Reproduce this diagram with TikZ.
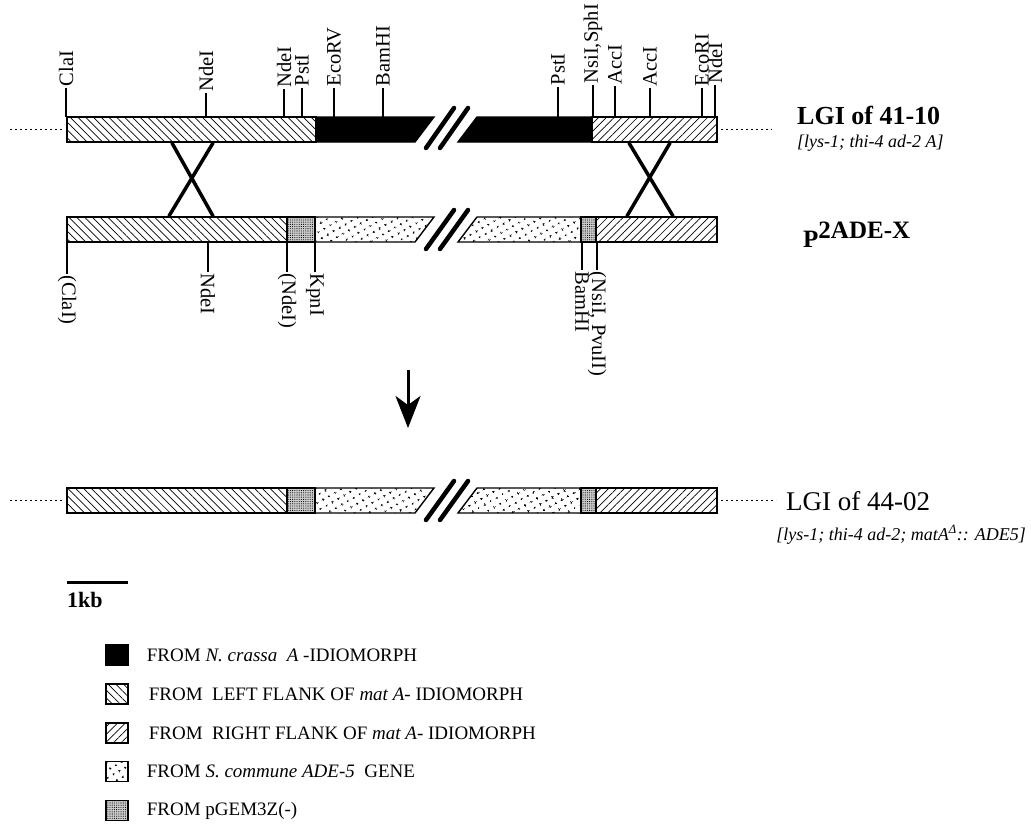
\documentclass[tikz,border=0pt]{standalone}
\usepackage{fontspec}
\setmainfont{Liberation Serif}
\usetikzlibrary{arrows.meta,patterns.meta,positioning}

\begin{document}
\begin{tikzpicture}[x=1pt,y=-1pt,
  seg/.style={draw=black,line width=1.4pt},
  leftflank/.style={seg,pattern={Lines[angle=-45,distance=5.5pt,line width=0.7pt]}},
  rightflank/.style={seg,pattern={Lines[angle=45,distance=5.5pt,line width=0.7pt]}},
  crassa/.style={seg,fill=black},
  adefive/.style={seg,pattern={Dots[distance=6.5pt,angle=30,radius=1.25pt]}},
  pgem/.style={seg,fill=gray!40,postaction={pattern={Dots[distance=2.2pt,radius=0.55pt]}}},
  brk/.style={line width=4.5pt,line cap=round},
  site/.style={inner sep=1.5pt,font=\fontsize{20.5}{22}\selectfont},
  sitetop/.style={site,rotate=90,anchor=west},
  sitebot/.style={site,rotate=-90,anchor=west},
  tick/.style={line width=1.6pt},
  cross/.style={line width=3.5pt,line cap=round},
  flank/.style={dash pattern=on 2pt off 3pt,line width=1.5pt},
  title/.style={anchor=base west,inner sep=0pt,font=\fontsize{26}{28}\selectfont\bfseries},
  geno/.style={anchor=base west,inner sep=0pt,font=\fontsize{18}{20}\selectfont\itshape},
  keybox/.style={minimum width=22pt,minimum height=20pt,inner sep=0pt},
  key/.style={anchor=west,inner sep=0pt,font=\fontsize{19}{21}\selectfont},
  arr/.style={-{Stealth[length=32pt,width=25pt,inset=9pt]},line width=3pt}
]
\useasboundingbox (0,0) rectangle (1031,825);
\coordinate (barA) at (0,117);
\coordinate (barB) at (0,242);

% LGI of 41-10
\draw[leftflank] (67,117) rectangle (316,142);
\draw[crassa] (316,117) -- (434,117) -- (415,142) -- (316,142) -- cycle;
\draw[crassa] (477,117) -- (592,117) -- (592,142) -- (458,142) -- cycle;
\draw[rightflank] (592,117) rectangle (717,142);
\draw[brk] (426,148) -- (454,108);
\draw[brk] (440,148) -- (468,108);
\draw[flank] (10,129.5) -- (63,129.5);
\draw[flank] (721,129.5) -- (772,129.5);

% P2ADE-X and LGI of 44-02
\foreach \t in {217,488}{
  \draw[leftflank] (67,\t) rectangle (287,\t+25);
  \draw[pgem] (287,\t) rectangle (315,\t+25);
  \draw[adefive] (315,\t) -- (434,\t) -- (415,\t+25) -- (315,\t+25) -- cycle;
  \draw[adefive] (477,\t) -- (581,\t) -- (581,\t+25) -- (458,\t+25) -- cycle;
  \draw[pgem] (581,\t) rectangle (596,\t+25);
  \draw[rightflank] (596,\t) rectangle (717,\t+25);
  \draw[brk] (426,\t+32) -- (454,\t-7);
  \draw[brk] (440,\t+32) -- (468,\t-7);
}
\draw[flank] (10,500.5) -- (63,500.5);
\draw[flank] (721,500.5) -- (776,500.5);

% crossovers
\draw[cross] (172,143) -- (213,216);
\draw[cross] (213,143) -- (169,216);
\draw[cross] (629,143) -- (673,216);
\draw[cross] (670,143) -- (627,216);

% sites above
\foreach \x/\y/\s [count=\i] in {66/88/ClaI,206/93/NdeI,284/89/NdeI,302/88/PstI,
    334/88/EcoRV,383/88/BamHI,558/87/PstI,{593/85/NsiI,SphI},615/86/AccI,
    650/88/AccI,702/88/EcoRI,715/85/NdeI}{
  \node[sitetop] (st\i) at (\x,\y) {\s};
  \draw[tick] (st\i.west) -- (st\i.west |- barA);
}

% sites below
\foreach \x/\y/\s [count=\i] in {67/274/(ClaI),208/272/NdeI,287/272/(NdeI),
    315/272/KpnI,582/270/BamHI,{597/270/(NsiI, PvuII)}}{
  \node[sitebot] (sb\i) at (\x,\y) {\s};
  \draw[tick] (sb\i.west) -- (sb\i.west |- barB);
}

% strain labels
\node[title] (lgiA) at (797,124) {LGI of 41-10};
\node[geno] (genA) at (797,147) {[lys-1; thi-4 ad-2 A]};
\node[title,font=\fontsize{25}{27}\selectfont\bfseries] (plas) at (803,247) {P\raisebox{9pt}{2ADE-X}};
\node[title,font=\fontsize{27}{29}\selectfont] (lgiB) at (786,510) {LGI of 44-02};
\node[geno,anchor=base east] (genB) at (1026,540) {[lys-1; thi-4 ad-2; matA\textsuperscript{Δ}:: ADE5]};

% recombination arrow
\coordinate (arrtop) at (408,370);
\coordinate (arrtip) at (408,428);
\draw[arr] (arrtop) -- (arrtip);

% scale and key
\coordinate (sbl) at (67,582);
\coordinate (sbr) at (128,582);
\draw[line width=3pt] (sbl) -- (sbr);
\node[anchor=north west,inner sep=0pt,font=\fontsize{22}{24}\selectfont\bfseries] (kb) at (67,592) {1kb};

\node[keybox,crassa] (k1) at (117,655) {};
\node[keybox,leftflank,below=17.5pt of k1] (k2) {};
\node[keybox,rightflank,below=17.5pt of k2] (k3) {};
\node[keybox,adefive,below=17.5pt of k3] (k4) {};
\node[keybox,pgem,below=17.5pt of k4] (k5) {};
\node[key,right=18pt of k1] (t1) {FROM \textit{N. crassa}\enspace\textit{A} -IDIOMORPH};
\node[key,right=20pt of k2] (t2) {FROM\enspace LEFT FLANK OF \textit{mat A}- IDIOMORPH};
\node[key,right=20pt of k3] (t3) {FROM\enspace RIGHT FLANK OF \textit{mat A}- IDIOMORPH};
\node[key,right=18pt of k4] (t4) {FROM \textit{S. commune ADE-5}\enspace GENE};
\node[key,right=18pt of k5] (t5) {FROM pGEM3Z(-)};
\end{tikzpicture}
\end{document}
